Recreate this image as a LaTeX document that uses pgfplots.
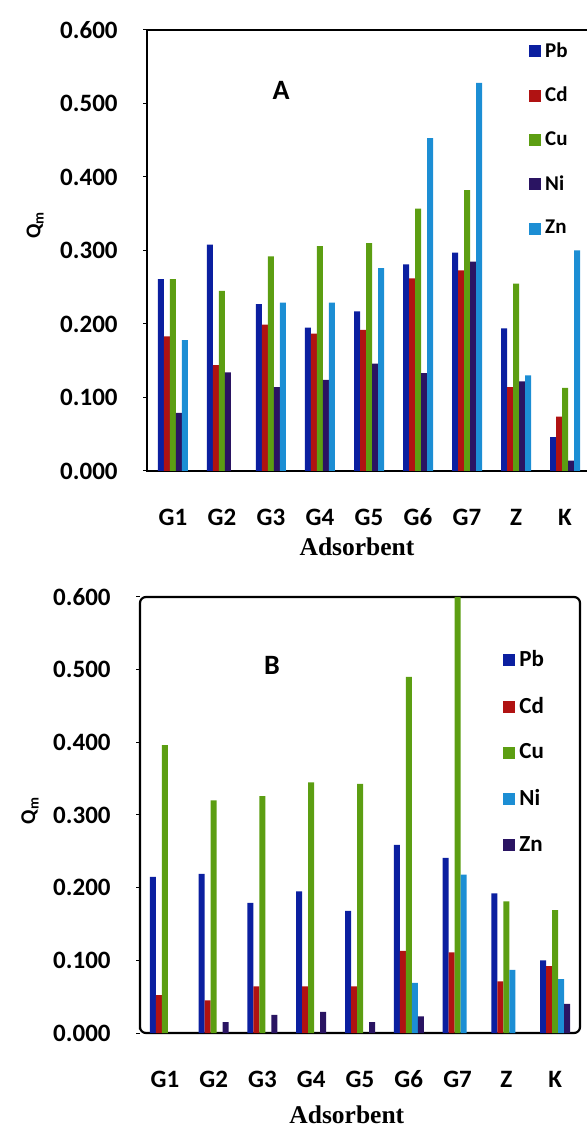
\documentclass[border=0pt]{standalone}
\usepackage{fontspec}
\setmainfont{Carlito}
\newfontfamily\serifbold{Liberation Serif}
\usepackage{pgfplots}
\pgfplotsset{compat=1.18}

\definecolor{pb}{HTML}{0B1FA0}
\definecolor{cd}{HTML}{B01212}
\definecolor{cu}{HTML}{5C9E12}
\definecolor{dk}{HTML}{2A1462}
\definecolor{lb}{HTML}{1C8ED4}

\pgfplotsset{
  panel/.style={
    ybar=0pt, bar width=3pt,
    scale only axis,
    ymin=0, ymax=0.6, ytick={0,0.1,...,0.6},
    xtick={1,...,9}, xticklabels={G1,G2,G3,G4,G5,G6,G7,Z,K},
    ytick pos=left, tick align=outside,
    major tick length=2pt,
    xtick style={draw=none},
    ytick style={black, line width=0.5pt},
    axis line style={black, line width=1.1pt},
    tick label style={font=\bfseries\fontsize{12.5}{13}\selectfont},
    yticklabel style={anchor=east, inner sep=0pt, xshift=-12.5pt,
      /pgf/number format/fixed, /pgf/number format/fixed zerofill,
      /pgf/number format/precision=3, /pgf/number format/assume math mode=true},
    xticklabel style={anchor=center, inner sep=0pt, yshift=-21pt},
    ylabel={Q\textsubscript{m}},
    ylabel style={font=\bfseries\fontsize{10.5}{12}\selectfont, anchor=center},
    xlabel={Adsorbent},
    xlabel style={font=\serifbold\bfseries\fontsize{12.75}{14}\selectfont, anchor=center},
    legend cell align=left,
    legend image code/.code={\fill[#1] (0pt,-3pt) rectangle (6pt,3pt);},
    legend style={draw=none, fill=none, inner sep=0pt, anchor=north west},
  }
}

\begin{document}
\begin{tikzpicture}
% panel A
\begin{axis}[panel, at={(73.5pt,328pt)}, anchor=south west,
  width=222pt, height=220.5pt, xmin=0.47, xmax=9.53,
  xlabel style={at={(axis description cs:0.473,0)}, yshift=-38pt},
  ylabel style={at={(axis description cs:-0.252,0.558)}},
  legend style={at={(0.860,0.982)}, row sep=9.5pt, font=\bfseries\fontsize{10.5}{12}\selectfont}]
\addplot[fill=pb, draw=none] coordinates {(1,0.261) (2,0.308) (3,0.227) (4,0.195) (5,0.217) (6,0.281) (7,0.297) (8,0.194) (9,0.046)};
\addlegendentry{Pb}
\addplot[fill=cd, draw=none] coordinates {(1,0.183) (2,0.144) (3,0.199) (4,0.187) (5,0.192) (6,0.262) (7,0.273) (8,0.114) (9,0.074)};
\addlegendentry{Cd}
\addplot[fill=cu, draw=none] coordinates {(1,0.261) (2,0.245) (3,0.292) (4,0.306) (5,0.310) (6,0.357) (7,0.382) (8,0.255) (9,0.113)};
\addlegendentry{Cu}
\addplot[fill=dk, draw=none] coordinates {(1,0.079) (2,0.134) (3,0.114) (4,0.124) (5,0.146) (6,0.133) (7,0.285) (8,0.122) (9,0.014)};
\addlegendentry{Ni}
\addplot[fill=lb, draw=none] coordinates {(1,0.178) (3,0.229) (4,0.229) (5,0.276) (6,0.453) (7,0.528) (8,0.130) (9,0.300)};
\addlegendentry{Zn}
\node[font=\bfseries\fontsize{14}{14}\selectfont] at (rel axis cs:0.302,0.864) {A};
\end{axis}
% panel B
\begin{axis}[panel, at={(70pt,47pt)}, anchor=south west,
  width=220pt, height=218pt, xmin=0.49, xmax=9.51,
  axis line style={rounded corners=3pt},
  xlabel style={at={(axis description cs:0.47,0)}, yshift=-41pt},
  ylabel style={at={(axis description cs:-0.25,0.51)}},
  legend style={at={(0.825,0.888)}, row sep=9.8pt, font=\bfseries\fontsize{11.5}{12}\selectfont}]
\addplot[fill=pb, draw=none] coordinates {(1,0.215) (2,0.219) (3,0.179) (4,0.195) (5,0.168) (6,0.259) (7,0.241) (8,0.192) (9,0.100)};
\addlegendentry{Pb}
\addplot[fill=cd, draw=none] coordinates {(1,0.052) (2,0.045) (3,0.064) (4,0.064) (5,0.064) (6,0.113) (7,0.111) (8,0.071) (9,0.092)};
\addlegendentry{Cd}
\addplot[fill=cu, draw=none] coordinates {(1,0.396) (2,0.320) (3,0.326) (4,0.345) (5,0.343) (6,0.490) (7,0.600) (8,0.181) (9,0.169)};
\addlegendentry{Cu}
\addplot[fill=lb, draw=none] coordinates {(6,0.069) (7,0.218) (8,0.087) (9,0.074)};
\addlegendentry{Ni}
\addplot[fill=dk, draw=none] coordinates {(2,0.015) (3,0.025) (4,0.029) (5,0.015) (6,0.023) (9,0.040)};
\addlegendentry{Zn}
\node[font=\bfseries\fontsize{14}{14}\selectfont] at (rel axis cs:0.30,0.842) {B};
\end{axis}
\pgfresetboundingbox
\useasboundingbox (0,0) rectangle (293pt,563.5pt);
\end{tikzpicture}
\end{document}
